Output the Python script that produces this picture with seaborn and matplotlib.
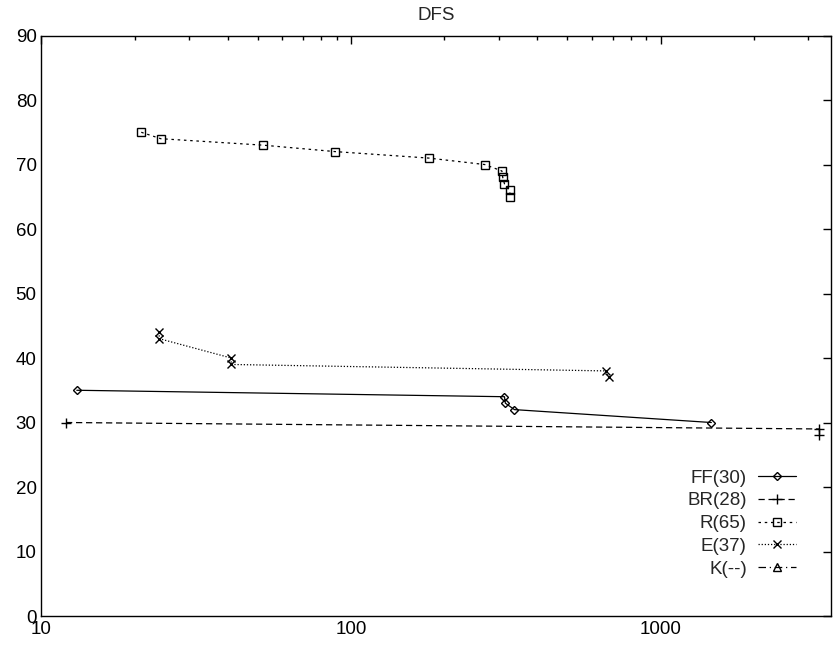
"""
DFS: gap values per series on a log x axis, gnuplot-like monochrome style
"""
import matplotlib
matplotlib.use('Agg')
import matplotlib.pyplot as plt
import matplotlib.ticker as mticker
import seaborn as sns

# series
ff_x = [13, 313, 315, 337, 1458]
ff_y = [35, 34, 33, 32, 30]

br_x = [12, 3258, 3258]
br_y = [30, 29, 28]

r_x = [21, 24.3, 52, 89, 178, 270, 307, 309, 313, 325, 327]
r_y = [75, 74, 73, 72, 71, 70, 69, 68, 67, 66, 65]

e_x = [24, 24, 41, 41, 664, 679]
e_y = [44, 43, 40, 39, 38, 37]

labels = ['FF(30)', 'BR(28)', 'R(65)', 'E(37)', 'K(--)']
x_ticks = [10, 100, 1000]
y_ticks = list(range(0, 91, 10))

sns.set_style('white')
plt.rcParams['font.family'] = ['Liberation Sans', 'DejaVu Sans']

fig = plt.figure(figsize=(8.35, 6.47), dpi=100)
ax = fig.add_axes([0.0497, 0.0479, 0.9455, 0.8972])

common = dict(color='black', linewidth=0.9, estimator=None, sort=False, ax=ax)
sns.lineplot(x=ff_x, y=ff_y, label=labels[0], linestyle='-', marker='D',
             markersize=4.5, markerfacecolor='none', markeredgecolor='black',
             markeredgewidth=1.0, **common)
sns.lineplot(x=br_x, y=br_y, label=labels[1], linestyle=(0, (5, 3)), marker='+',
             markersize=6.5, markeredgecolor='black', markeredgewidth=1.0, **common)
sns.lineplot(x=r_x, y=r_y, label=labels[2], linestyle=(0, (2, 3)), marker='s',
             markersize=6, markerfacecolor='none', markeredgecolor='black',
             markeredgewidth=1.0, **common)
sns.lineplot(x=e_x, y=e_y, label=labels[3], linestyle=(0, (1, 1.5)), marker='x',
             markersize=6, markeredgecolor='black', markeredgewidth=1.0, **common)
# K has no data points, only a legend entry
ax.plot([], [], color='black', linewidth=0.9, linestyle=(0, (6, 3, 1, 3)),
        marker='^', markersize=5.5, markerfacecolor='none', label=labels[4])

ax.set_xscale('log')
ax.set_xlim(10, 3550)
ax.set_ylim(0, 90)
ax.set_xticks(x_ticks)
ax.xaxis.set_major_formatter(mticker.FuncFormatter(lambda v, p: f'{int(v)}'))
ax.xaxis.set_minor_locator(mticker.LogLocator(base=10, subs=range(2, 10), numticks=20))
ax.xaxis.set_minor_formatter(mticker.NullFormatter())
ax.set_yticks(y_ticks)

ax.tick_params(which='both', direction='in', top=True, right=True,
               labelsize=13.5, colors='black', width=1.0)
ax.tick_params(which='major', length=6)
ax.tick_params(which='minor', length=3)
for s in ax.spines.values():
    s.set_color('black')
    s.set_linewidth(1.0)

ax.set_title('DFS', fontsize=13.5, pad=11)

ax.legend(loc='lower right', bbox_to_anchor=(0.967, 0.05), frameon=False,
          markerfirst=False, fontsize=13.5, handlelength=2.0, handletextpad=0.6,
          labelspacing=0.3, borderpad=0)

plt.savefig('out.png', dpi=100)
